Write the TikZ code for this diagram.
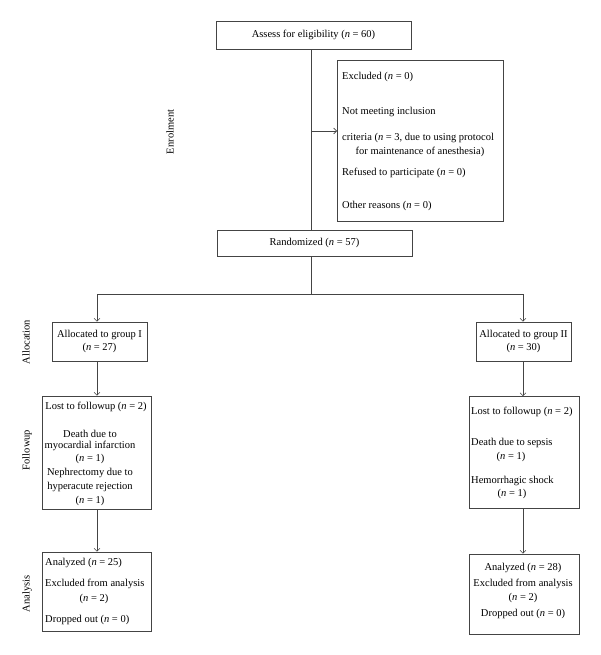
\documentclass[tikz,border=0pt]{standalone}
\usepackage{fontspec}
\setmainfont{Liberation Serif}
\usetikzlibrary{arrows.meta}
\definecolor{linec}{HTML}{444444}
\newcommand\fs{\fontsize{10.5}{12}\selectfont}
\newcommand\nn{\textit{n}}
\tikzset{
 box/.style={draw=linec, line width=0.6pt, inner sep=0pt, fill=white},
 txt/.style={inner sep=0pt, font=\fs},
 lft/.style={txt, anchor=west},
 lab/.style={txt, rotate=90},
 arr/.style={draw=linec, line width=0.6pt, -{Straight Barb[length=3pt,width=6pt]}},
 ln/.style={draw=linec, line width=0.6pt}
}
\begin{document}
\begin{tikzpicture}[x=1pt,y=-1pt]
\useasboundingbox (0,0) rectangle (600,655);
% boxes
\node[box, minimum width=195, minimum height=28] (assess) at (313.5,35) {};
\node[box, minimum width=166, minimum height=161] (excl) at (420,140.5) {};
\node[box, minimum width=195, minimum height=26] (rand) at (314.5,243) {};
\node[box, minimum width=95, minimum height=39] (g1) at (99.5,341.5) {};
\node[box, minimum width=95, minimum height=39] (g2) at (523.5,341.5) {};
\node[box, minimum width=109, minimum height=113] (f1) at (96.5,452.5) {};
\node[box, minimum width=110, minimum height=112] (f2) at (524,452.5) {};
\node[box, minimum width=109, minimum height=79] (a1) at (96.5,591.5) {};
\node[box, minimum width=110, minimum height=80] (a2) at (524,594) {};
% texts
\node[txt] (tassess) at (313.5,35) {Assess for eligibility (\nn{} = 60)};
\node[lft] (e1) at (342,77) {Excluded (\nn{} = 0)};
\node[lft] (e2) at (342,112) {Not meeting inclusion};
\node[lft] (e3) at (342,138) {criteria (\nn{} = 3, due to using protocol};
\node[txt] (e4) at (420,152) {for maintenance of anesthesia)};
\node[lft] (e5) at (342,173) {Refused to participate (\nn{} = 0)};
\node[lft] (e6) at (342,206) {Other reasons (\nn{} = 0)};
\node[txt] (trand) at (314.5,243) {Randomized (\nn{} = 57)};
\node[txt] (g1a) at (99.5,335) {Allocated to group I};
\node[txt] (g1b) at (99.5,348) {(\nn{} = 27)};
\node[txt] (g2a) at (523.5,335) {Allocated to group II};
\node[txt] (g2b) at (523.5,348) {(\nn{} = 30)};
\node[txt] (f1a) at (96,407) {Lost to followup (\nn{} = 2)};
\node[txt] (f1b) at (90,434) {Death due to};
\node[txt] (f1c) at (90,445.5) {myocardial infarction};
\node[txt] (f1d) at (90,459) {(\nn{} = 1)};
\node[txt] (f1e) at (90,473) {Nephrectomy due to};
\node[txt] (f1f) at (90,487) {hyperacute rejection};
\node[txt] (f1g) at (90,501) {(\nn{} = 1)};
\node[lft] (f2a) at (471,412) {Lost to followup (\nn{} = 2)};
\node[lft] (f2b) at (471,443) {Death due to sepsis};
\node[txt] (f2c) at (511,457) {(\nn{} = 1)};
\node[lft] (f2d) at (471,481) {Hemorrhagic shock};
\node[txt] (f2e) at (512,494) {(\nn{} = 1)};
\node[lft] (a1a) at (45,563) {Analyzed (\nn{} = 25)};
\node[lft] (a1b) at (45,584) {Excluded from analysis};
\node[txt] (a1c) at (94,599) {(\nn{} = 2)};
\node[lft] (a1d) at (45,620) {Dropped out (\nn{} = 0)};
\node[txt] (a2a) at (523,568) {Analyzed (\nn{} = 28)};
\node[txt] (a2b) at (523,584) {Excluded from analysis};
\node[txt] (a2c) at (523,598) {(\nn{} = 2)};
\node[txt] (a2d) at (523,614) {Dropped out (\nn{} = 0)};
% side labels
\node[lab] (lenrol) at (170,132) {Enrolment};
\node[lab] (lalloc) at (26,342) {Allocation};
\node[lab] (lfollow) at (27,450) {Followup};
\node[lab] (lanal) at (27,594) {Analysis};
% connectors
\coordinate (mid) at (311,0);
\coordinate (ex) at (337,131);
\coordinate (split) at (311,294);
\coordinate (colL) at (97,0);
\coordinate (colR) at (523,0);
\draw[ln] (mid |- assess.south) -- (mid |- rand.north);
\draw[arr] (mid |- ex) -- (ex);
\draw[ln] (mid |- rand.south) -- (split);
\draw[ln] (colL |- split) -- (colR |- split);
\draw[arr] (colL |- split) -- (colL |- g1.north);
\draw[arr] (colR |- split) -- (colR |- g2.north);
\draw[arr] (colL |- g1.south) -- (colL |- f1.north);
\draw[arr] (colR |- g2.south) -- (colR |- f2.north);
\draw[arr] (colL |- f1.south) -- (colL |- a1.north);
\draw[arr] (colR |- f2.south) -- (colR |- a2.north);
\end{tikzpicture}
\end{document}
